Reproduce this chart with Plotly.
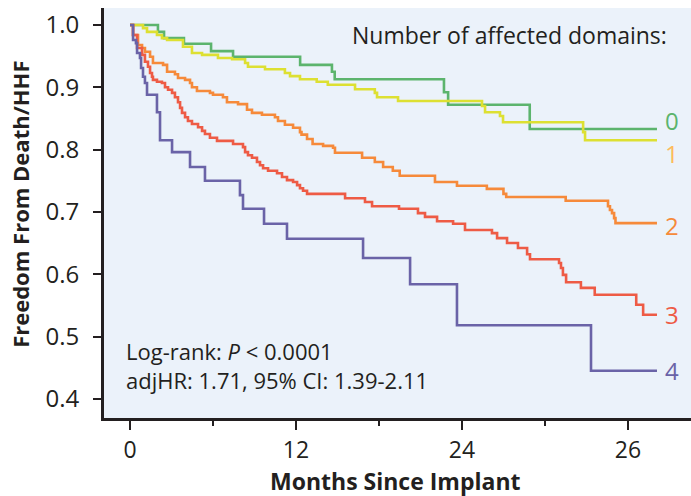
import plotly.graph_objects as go

# ---- data ----
groups = ["0", "1", "2", "3", "4"]

months_0 = [0, 2.02, 2.46, 3.9, 5.86, 7.45, 12.3, 14.6, 14.8, 22.7, 23.0, 28.9, 38.1]
surv_0 = [1.0, 0.989, 0.979, 0.970, 0.958, 0.949, 0.936, 0.925, 0.913, 0.892, 0.872, 0.833, 0.833]

months_1 = [0, 0.94, 1.23, 1.95, 2.31, 2.68, 3.83, 4.48, 5.21, 6.36, 7.38, 8.32, 8.53, 9.76,
            11.2, 11.57, 12.29, 13.5, 14.3, 16.27, 17.7, 17.86, 19.38, 25.45, 25.67, 26.75,
            26.97, 32.76, 32.9, 38.1]
surv_1 = [1.0, 0.995, 0.989, 0.984, 0.979, 0.976, 0.965, 0.955, 0.952, 0.947, 0.945, 0.939,
          0.933, 0.929, 0.923, 0.918, 0.913, 0.909, 0.904, 0.897, 0.891, 0.884, 0.878, 0.870,
          0.860, 0.854, 0.844, 0.828, 0.815, 0.815]

months_2 = [0, 0.22, 0.58, 0.87, 1.08, 1.45, 1.66, 2.39, 2.68, 3.25, 3.47, 3.98, 4.34, 4.48,
            4.84, 5.78, 6.0, 6.72, 7.01, 7.81, 8.46, 8.82, 9.54, 10.48, 10.7, 11.2, 11.79,
            12.29, 12.4, 12.8, 13.2, 13.96, 14.68, 14.82, 16.78, 17.7, 18.3, 19.0, 19.5,
            22.05, 23.64, 25.8, 27.0, 27.2, 31.5, 34.56, 34.7, 34.85, 35.0, 35.1, 38.1]
surv_2 = [1.0, 0.984, 0.968, 0.963, 0.957, 0.949, 0.939, 0.936, 0.925, 0.921, 0.915, 0.912,
          0.907, 0.900, 0.894, 0.891, 0.888, 0.884, 0.876, 0.873, 0.864, 0.859, 0.856, 0.852,
          0.846, 0.840, 0.835, 0.828, 0.824, 0.817, 0.809, 0.806, 0.803, 0.795, 0.787, 0.780,
          0.772, 0.766, 0.758, 0.748, 0.742, 0.737, 0.729, 0.724, 0.718, 0.709, 0.703, 0.698,
          0.690, 0.682, 0.682]

months_3 = [0, 0.22, 0.51, 0.87, 1.08, 1.30, 1.45, 1.59, 1.66, 1.95, 2.31, 2.53, 2.75, 3.04,
            3.25, 3.47, 3.62, 3.76, 3.98, 4.19, 4.48, 4.92, 5.21, 5.42, 5.78, 6.29, 7.45,
            8.17, 8.32, 8.53, 8.82, 9.18, 9.4, 9.62, 9.98, 10.63, 10.99, 11.35, 11.79, 12.08,
            12.29, 12.51, 12.8, 15.55, 16.99, 17.5, 19.45, 20.82, 21.33, 22.2, 23.36, 24.22,
            26.17, 26.54, 27.26, 28.05, 28.71, 28.92, 31.02, 31.16, 31.3, 31.53, 32.6, 33.6,
            36.6, 37.1, 38.1]
surv_3 = [1.0, 0.984, 0.963, 0.952, 0.941, 0.933, 0.923, 0.917, 0.912, 0.909, 0.907, 0.900,
          0.896, 0.891, 0.884, 0.876, 0.867, 0.859, 0.852, 0.846, 0.841, 0.836, 0.830, 0.825,
          0.819, 0.814, 0.809, 0.804, 0.796, 0.791, 0.787, 0.780, 0.775, 0.770, 0.766, 0.762,
          0.756, 0.751, 0.748, 0.743, 0.738, 0.734, 0.729, 0.722, 0.716, 0.709, 0.705, 0.698,
          0.692, 0.685, 0.681, 0.671, 0.666, 0.658, 0.650, 0.642, 0.632, 0.624, 0.618, 0.610,
          0.599, 0.587, 0.578, 0.567, 0.551, 0.535, 0.535]

months_4 = [0, 0.22, 0.43, 0.51, 0.72, 0.80, 0.94, 1.08, 1.23, 1.95, 2.17, 3.04, 4.34, 5.42,
            7.95, 8.17, 9.69, 11.35, 16.85, 20.25, 23.64, 33.33, 38.1]
surv_4 = [1.0, 0.976, 0.971, 0.955, 0.947, 0.931, 0.917, 0.907, 0.888, 0.860, 0.815, 0.796,
          0.772, 0.750, 0.727, 0.705, 0.681, 0.657, 0.626, 0.584, 0.518, 0.445, 0.445]

x_tickvals = [0, 12, 24, 36]
x_ticktext = ["0", "12", "24", "26"]
y_tickvals = [0.4, 0.5, 0.6, 0.7, 0.8, 0.9, 1.0]
y_ticktext = ["0.4", "0.5", "0.6", "0.7", "0.8", "0.9", "1.0"]

line_colors = ["#5cb46d", "#dde032", "#f68a3a", "#ee5b45", "#6a63a7"]
label_colors = ["#5cb46d", "#fdbb5c", "#f68a3a", "#ee5b45", "#6a63a7"]
label_offsets = [0.014, -0.021, -0.004, 0.0, 0.0]

FONT = "Open Sans"
TXT = "#231f20"

series = [(months_0, surv_0), (months_1, surv_1), (months_2, surv_2),
          (months_3, surv_3), (months_4, surv_4)]

fig = go.Figure()
for (mx, sy), col, name in zip(series, line_colors, groups):
    fig.add_trace(go.Scatter(x=mx, y=sy, mode="lines", line=dict(color=col, width=2.6, shape="hv"),
                             name=name, showlegend=False, hoverinfo="skip"))

annots = []
for (mx, sy), col, name, dy in zip(series, label_colors, groups, label_offsets):
    annots.append(dict(x=mx[-1] + 0.45, y=sy[-1] + dy, text=name, showarrow=False, xanchor="left",
                       yanchor="middle", font=dict(family=FONT, size=24, color=col)))

annots += [
    dict(x=0.962, y=0.935, xref="paper", yref="paper", text="Number of affected domains:",
         showarrow=False, xanchor="right", yanchor="middle",
         font=dict(family=FONT, size=23, color=TXT)),
    dict(x=-0.45, y=0.453,
         text="Log-rank: <i>P</i> &lt; 0.0001<br>adjHR: 1.71, 95% CI: 1.39-2.11",
         showarrow=False, xanchor="left", yanchor="middle", align="left",
         font=dict(family=FONT, size=22, color=TXT)),
    dict(x=0.497, y=-0.153, xref="paper", yref="paper", text="<b>Months Since Implant</b>",
         showarrow=False, xanchor="center", yanchor="middle",
         font=dict(family=FONT, size=23, color=TXT)),
    dict(x=-0.143, y=0.52, xref="paper", yref="paper", text="<b>Freedom From Death/HHF</b>",
         showarrow=False, xanchor="center", yanchor="middle", textangle=-90,
         font=dict(family=FONT, size=22, color=TXT)),
]

fig.update_layout(
    width=691, height=496,
    margin=dict(l=104, r=0, t=8, b=78),
    paper_bgcolor="white",
    plot_bgcolor="#ebf2fa",
    annotations=annots,
    xaxis=dict(range=[-1.88, 40.56], tickvals=x_tickvals, ticktext=x_ticktext,
               showgrid=False, zeroline=False, showline=True, linecolor=TXT, linewidth=3,
               ticks="outside", ticklen=9, tickwidth=2, tickcolor=TXT,
               tickfont=dict(family=FONT, size=23, color=TXT),
               minor=dict(tickvals=[6, 18, 30], ticks="outside", ticklen=5, tickwidth=2,
                          tickcolor=TXT)),
    yaxis=dict(range=[0.3692, 1.0273], tickvals=y_tickvals, ticktext=y_ticktext,
               showgrid=False, zeroline=False, showline=True, linecolor=TXT, linewidth=3,
               ticks="outside", ticklen=8, tickwidth=2, tickcolor=TXT, ticklabelstandoff=9,
               tickfont=dict(family=FONT, size=24, color=TXT)),
)

fig.write_html("out.html")
